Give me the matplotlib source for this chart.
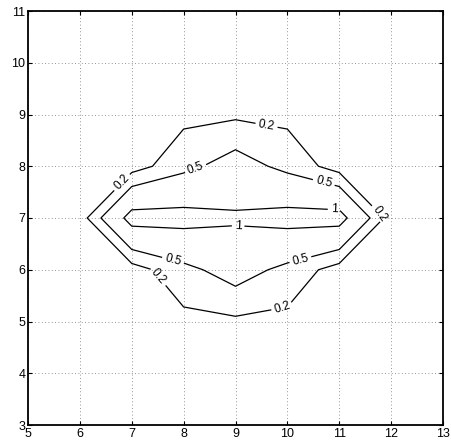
import numpy as np
import matplotlib
matplotlib.use("Agg")
import matplotlib.pyplot as plt

x_vals = [5, 6, 7, 8, 9, 10, 11, 12, 13]
y_vals = [3, 4, 5, 6, 7, 8, 9, 10, 11]

# rows are y = 3 .. 11, columns are x = 5 .. 13
z_rows = [
    [0.00, 0.00, 0.00, 0.000, 0.000, 0.000, 0.00, 0.00, 0.00],
    [0.00, 0.00, 0.00, 0.010, 0.020, 0.010, 0.00, 0.00, 0.00],
    [0.00, 0.00, 0.02, 0.121, 0.148, 0.121, 0.02, 0.00, 0.00],
    [0.00, 0.00, 0.065, 0.402, 0.665, 0.402, 0.065, 0.00, 0.00],
    [0.00, 0.04, 1.175, 1.154, 1.058, 1.154, 1.175, 0.04, 0.00],
    [0.00, 0.00, 0.065, 0.402, 0.665, 0.402, 0.065, 0.00, 0.00],
    [0.00, 0.00, 0.02, 0.121, 0.148, 0.121, 0.02, 0.00, 0.00],
    [0.00, 0.00, 0.00, 0.010, 0.020, 0.010, 0.00, 0.00, 0.00],
    [0.00, 0.00, 0.00, 0.000, 0.000, 0.000, 0.00, 0.00, 0.00],
]
levels = [0.2, 0.5, 1]

# where MATLAB put the labels
label_spots = [
    (9.6, 8.8), (6.8, 7.7), (11.75, 7.05), (7.5, 5.85), (9.9, 5.28),
    (8.25, 7.9), (10.7, 7.68), (7.8, 6.2), (10.25, 6.2),
    (10.9, 7.16), (9.05, 6.83),
]

plt.rcParams['font.family'] = ['Liberation Sans', 'DejaVu Sans']

fig = plt.figure(figsize=(4.51, 4.45), dpi=100)
ax = fig.add_axes([28 / 451, 20 / 445, 415 / 451, 414 / 445])

X, Y = np.meshgrid(x_vals, y_vals)
Z = np.array(z_rows)
cs = ax.contour(X, Y, Z, levels=levels, colors='black', linewidths=0.9)
ax.clabel(cs, fmt='%g', fontsize=8.5, inline=True, inline_spacing=3,
          manual=label_spots)

ax.set_xlim(5, 13)
ax.set_ylim(3, 11)
ax.set_xticks(range(5, 14))
ax.set_yticks(range(3, 12))
ax.grid(True, linestyle=(0, (1, 3)), color='0.45', linewidth=0.6)
ax.tick_params(direction='in', length=3, labelsize=9, top=True, right=True,
               pad=2)
for s in ax.spines.values():
    s.set_linewidth(1.3)

fig.savefig("out.png", dpi=100)
